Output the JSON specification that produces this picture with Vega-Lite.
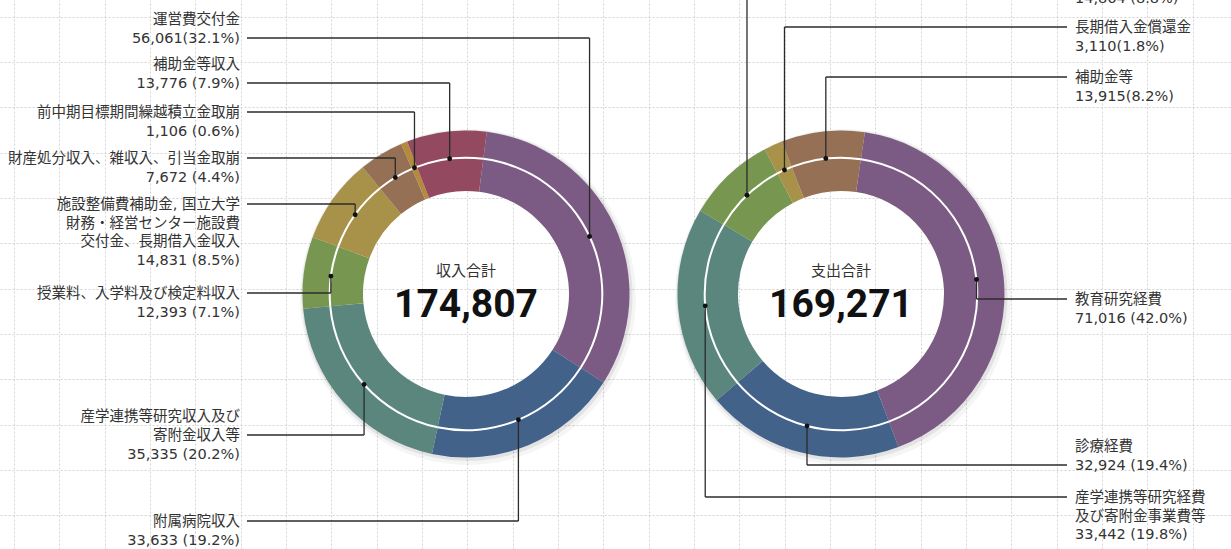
{
  "$schema": "https://vega.github.io/schema/vega-lite/v6.json",
  "width": 1231,
  "height": 549,
  "autosize": {"type": "none"},
  "padding": 0,
  "background": "#ffffff",
  "config": {"view": {"stroke": null}},
  "datasets": {
    "income": [
      {"name": "運営費交付金", "value": 56061, "lines": ["運営費交付金", "56,061(32.1%)"], "ly": 38, "li": 1},
      {"name": "附属病院収入", "value": 33633, "lines": ["附属病院収入", "33,633 (19.2%)"], "ly": 521, "li": 0},
      {"name": "産学連携等研究収入及び寄附金収入等", "value": 35335, "lines": ["産学連携等研究収入及び", "寄附金収入等", "35,335 (20.2%)"], "ly": 435, "li": 1},
      {"name": "授業料、入学料及び検定料収入", "value": 12393, "lines": ["授業料、入学料及び検定料収入", "12,393 (7.1%)"], "ly": 293, "li": 0},
      {"name": "施設整備費補助金, 国立大学財務・経営センター施設費交付金、長期借入金収入", "value": 14831, "lines": ["施設整備費補助金, 国立大学", "財務・経営センター施設費", "交付金、長期借入金収入", "14,831 (8.5%)"], "ly": 204, "li": 0},
      {"name": "財産処分収入、雑収入、引当金取崩", "value": 7672, "lines": ["財産処分収入、雑収入、引当金取崩", "7,672 (4.4%)"], "ly": 158, "li": 0},
      {"name": "前中期目標期間繰越積立金取崩", "value": 1106, "lines": ["前中期目標期間繰越積立金取崩", "1,106 (0.6%)"], "ly": 112, "li": 0},
      {"name": "補助金等収入", "value": 13776, "lines": ["補助金等収入", "13,776 (7.9%)"], "ly": 83, "li": 1}
    ],
    "expense": [
      {"name": "教育研究経費", "value": 71016, "lines": ["教育研究経費", "71,016 (42.0%)"], "ly": 299, "li": 0},
      {"name": "診療経費", "value": 32924, "lines": ["診療経費", "32,924 (19.4%)"], "ly": 465, "li": 1},
      {"name": "産学連携等研究経費及び寄附金事業費等", "value": 33442, "lines": ["産学連携等研究経費", "及び寄附金事業費等", "33,442 (19.8%)"], "ly": 497, "li": 0},
      {"name": "施設整備費", "value": 14864, "lines": ["施設整備費", "14,864 (8.8%)"], "ly": -21, "li": 0},
      {"name": "長期借入金償還金", "value": 3110, "lines": ["長期借入金償還金", "3,110(1.8%)"], "ly": 27, "li": 0},
      {"name": "補助金等", "value": 13915, "lines": ["補助金等", "13,915(8.2%)"], "ly": 77, "li": 0}
    ]
  },
  "layer": [
    {
      "data": {"name": "income"},
      "transform": [
        {"aggregate": [{"op": "sum", "field": "value", "as": "sumv"}]}
      ],
      "mark": {"type": "text", "text": "収入合計", "align": "center", "baseline": "middle", "fontSize": 15, "color": "#333333", "font": "Noto Sans CJK JP"},
      "encoding": {
        "x": {"datum": 466, "type": "quantitative", "scale": {"domain": [0, 1231], "nice": false, "zero": false},
          "axis": {"values": [14, 37, 59, 82, 105, 127, 150, 173, 195, 218, 241, 263, 286, 309, 331, 354, 377, 399, 422, 445, 467, 490, 513, 535, 558, 581, 603, 626, 649, 671, 694, 717, 739, 762, 785, 807, 830, 853, 875, 898, 921, 943, 966, 989, 1011, 1034, 1057, 1079, 1102, 1125, 1147, 1170, 1193, 1215],
            "grid": true, "gridColor": "#d3d3d3", "gridDash": [2, 2], "gridWidth": 1, "labels": false, "ticks": false, "domain": false, "title": null}},
        "y": {"datum": 271, "type": "quantitative", "scale": {"domain": [0, 549], "nice": false, "zero": false, "reverse": true},
          "axis": {"values": [17, 39, 62, 85, 107, 130, 153, 175, 198, 221, 243, 266, 289, 311, 334, 357, 379, 402, 425, 447, 470, 493, 515, 538],
            "grid": true, "gridColor": "#d3d3d3", "gridDash": [2, 2], "gridWidth": 1, "labels": false, "ticks": false, "domain": false, "title": null}}
      }
    },
    {
      "data": {"name": "income"},
      "transform": [
        {"window": [{"op": "row_number", "as": "seq"}]},
        {"window": [{"op": "sum", "field": "value", "as": "cum"}], "sort": [{"field": "seq"}], "frame": [null, 0]},
        {"joinaggregate": [{"op": "sum", "field": "value", "as": "total"}]},
        {"calculate": "0.1274 + 2*PI*(datum.cum - datum.value/2)/datum.total", "as": "ang"},
        {"calculate": "466 + 136.3*sin(datum.ang)", "as": "dx"},
        {"calculate": "294 - 136.3*cos(datum.ang)", "as": "dy"},
        {"calculate": "datum.ly - datum.li*18.7 - 6", "as": "ty"}
      ],
      "layer": [
        {
          "mark": {"type": "arc", "radius": 168, "radius2": 120, "color": "#000000", "opacity": 0.04},
          "encoding": {
            "theta": {"field": "value", "type": "quantitative", "scale": {"range": [0.1274, 6.4106]}},
            "order": {"field": "seq"},
            "x": {"datum": 468, "type": "quantitative", "scale": {"domain": [0, 1231], "nice": false, "zero": false}},
            "y": {"datum": 297, "type": "quantitative", "scale": {"domain": [0, 549], "nice": false, "zero": false, "reverse": true}}
          }
        },
        {
          "mark": {"type": "arc", "radius": 165.5, "radius2": 120, "color": "#000000", "opacity": 0.07},
          "encoding": {
            "theta": {"field": "value", "type": "quantitative"},
            "order": {"field": "seq"},
            "x": {"datum": 467, "type": "quantitative", "scale": {"domain": [0, 1231], "nice": false, "zero": false}},
            "y": {"datum": 295.5, "type": "quantitative", "scale": {"domain": [0, 549], "nice": false, "zero": false, "reverse": true}}
          }
        },
        {
          "mark": {"type": "arc", "radius": 163.5, "radius2": 103},
          "encoding": {
            "theta": {"field": "value", "type": "quantitative"},
            "order": {"field": "seq"},
            "color": {"field": "name", "type": "nominal", "legend": null,
              "scale": {
                "domain": ["運営費交付金", "附属病院収入", "産学連携等研究収入及び寄附金収入等", "授業料、入学料及び検定料収入", "施設整備費補助金, 国立大学財務・経営センター施設費交付金、長期借入金収入", "財産処分収入、雑収入、引当金取崩", "前中期目標期間繰越積立金取崩", "補助金等収入", "教育研究経費", "診療経費", "産学連携等研究経費及び寄附金事業費等", "施設整備費", "長期借入金償還金", "補助金等"],
                "range": ["#7b5a83", "#42628a", "#5a867e", "#77964f", "#a8924a", "#957055", "#b48a3d", "#934a61", "#7b5a83", "#42628a", "#5a867e", "#77964f", "#a8924a", "#957055"]
              }},
            "x": {"datum": 466, "type": "quantitative", "scale": {"domain": [0, 1231], "nice": false, "zero": false}},
            "y": {"datum": 294, "type": "quantitative", "scale": {"domain": [0, 549], "nice": false, "zero": false, "reverse": true}}
          }
        },
        {
          "mark": {"type": "arc", "radius": 137.3, "radius2": 135.3, "color": "#ffffff"},
          "encoding": {
            "theta": {"field": "value", "type": "quantitative"},
            "order": {"field": "seq"},
            "x": {"datum": 466, "type": "quantitative", "scale": {"domain": [0, 1231], "nice": false, "zero": false}},
            "y": {"datum": 294, "type": "quantitative", "scale": {"domain": [0, 549], "nice": false, "zero": false, "reverse": true}}
          }
        },
        {
          "mark": {"type": "rule", "color": "#2b2b2b", "strokeWidth": 1.3},
          "encoding": {
            "x": {"field": "dx", "type": "quantitative", "scale": {"domain": [0, 1231], "nice": false, "zero": false}},
            "y": {"field": "dy", "type": "quantitative", "scale": {"domain": [0, 549], "nice": false, "zero": false, "reverse": true}},
            "y2": {"field": "ly"}
          }
        },
        {
          "mark": {"type": "rule", "color": "#2b2b2b", "strokeWidth": 1.3},
          "encoding": {
            "x": {"field": "dx", "type": "quantitative", "scale": {"domain": [0, 1231], "nice": false, "zero": false}},
            "x2": {"datum": 247},
            "y": {"field": "ly", "type": "quantitative", "scale": {"domain": [0, 549], "nice": false, "zero": false, "reverse": true}}
          }
        },
        {
          "mark": {"type": "circle", "color": "#111111", "opacity": 1, "size": 24},
          "encoding": {
            "x": {"field": "dx", "type": "quantitative", "scale": {"domain": [0, 1231], "nice": false, "zero": false}},
            "y": {"field": "dy", "type": "quantitative", "scale": {"domain": [0, 549], "nice": false, "zero": false, "reverse": true}}
          }
        },
        {
          "mark": {"type": "text", "align": "right", "baseline": "top", "fontSize": 14.5, "lineHeight": 18.7, "color": "#333333", "font": "DejaVu Sans, Noto Sans CJK JP"},
          "encoding": {
            "text": {"field": "lines", "type": "nominal"},
            "x": {"datum": 240, "type": "quantitative", "scale": {"domain": [0, 1231], "nice": false, "zero": false}},
            "y": {"field": "ty", "type": "quantitative", "scale": {"domain": [0, 549], "nice": false, "zero": false, "reverse": true}}
          }
        },
        {
          "transform": [{"aggregate": [{"op": "sum", "field": "value", "as": "sumv"}]}],
          "mark": {"type": "text", "align": "center", "baseline": "middle", "fontSize": 39, "fontWeight": "bold", "color": "#111111", "font": "Roboto"},
          "encoding": {
            "text": {"field": "sumv", "type": "quantitative", "format": ","},
            "x": {"datum": 466, "type": "quantitative", "scale": {"domain": [0, 1231], "nice": false, "zero": false}},
            "y": {"datum": 305, "type": "quantitative", "scale": {"domain": [0, 549], "nice": false, "zero": false, "reverse": true}}
          }
        }
      ]
    },
    {
      "data": {"name": "expense"},
      "transform": [
        {"window": [{"op": "row_number", "as": "seq"}]},
        {"window": [{"op": "sum", "field": "value", "as": "cum"}], "sort": [{"field": "seq"}], "frame": [null, 0]},
        {"joinaggregate": [{"op": "sum", "field": "value", "as": "total"}]},
        {"calculate": "0.1466 + 2*PI*(datum.cum - datum.value/2)/datum.total", "as": "ang"},
        {"calculate": "841 + 136.3*sin(datum.ang)", "as": "dx"},
        {"calculate": "294 - 136.3*cos(datum.ang)", "as": "dy"},
        {"calculate": "datum.ly - datum.li*18.7 - 6", "as": "ty"}
      ],
      "layer": [
        {
          "mark": {"type": "arc", "radius": 168, "radius2": 120, "color": "#000000", "opacity": 0.04},
          "encoding": {
            "theta": {"field": "value", "type": "quantitative", "scale": {"range": [0.1466, 6.4298]}},
            "order": {"field": "seq"},
            "x": {"datum": 843, "type": "quantitative", "scale": {"domain": [0, 1231], "nice": false, "zero": false}},
            "y": {"datum": 297, "type": "quantitative", "scale": {"domain": [0, 549], "nice": false, "zero": false, "reverse": true}}
          }
        },
        {
          "mark": {"type": "arc", "radius": 165.5, "radius2": 120, "color": "#000000", "opacity": 0.07},
          "encoding": {
            "theta": {"field": "value", "type": "quantitative"},
            "order": {"field": "seq"},
            "x": {"datum": 842, "type": "quantitative", "scale": {"domain": [0, 1231], "nice": false, "zero": false}},
            "y": {"datum": 295.5, "type": "quantitative", "scale": {"domain": [0, 549], "nice": false, "zero": false, "reverse": true}}
          }
        },
        {
          "mark": {"type": "arc", "radius": 163.5, "radius2": 103},
          "encoding": {
            "theta": {"field": "value", "type": "quantitative"},
            "order": {"field": "seq"},
            "color": {"field": "name", "type": "nominal", "legend": null,
              "scale": {
                "domain": ["運営費交付金", "附属病院収入", "産学連携等研究収入及び寄附金収入等", "授業料、入学料及び検定料収入", "施設整備費補助金, 国立大学財務・経営センター施設費交付金、長期借入金収入", "財産処分収入、雑収入、引当金取崩", "前中期目標期間繰越積立金取崩", "補助金等収入", "教育研究経費", "診療経費", "産学連携等研究経費及び寄附金事業費等", "施設整備費", "長期借入金償還金", "補助金等"],
                "range": ["#7b5a83", "#42628a", "#5a867e", "#77964f", "#a8924a", "#957055", "#b48a3d", "#934a61", "#7b5a83", "#42628a", "#5a867e", "#77964f", "#a8924a", "#957055"]
              }},
            "x": {"datum": 841, "type": "quantitative", "scale": {"domain": [0, 1231], "nice": false, "zero": false}},
            "y": {"datum": 294, "type": "quantitative", "scale": {"domain": [0, 549], "nice": false, "zero": false, "reverse": true}}
          }
        },
        {
          "mark": {"type": "arc", "radius": 137.3, "radius2": 135.3, "color": "#ffffff"},
          "encoding": {
            "theta": {"field": "value", "type": "quantitative"},
            "order": {"field": "seq"},
            "x": {"datum": 841, "type": "quantitative", "scale": {"domain": [0, 1231], "nice": false, "zero": false}},
            "y": {"datum": 294, "type": "quantitative", "scale": {"domain": [0, 549], "nice": false, "zero": false, "reverse": true}}
          }
        },
        {
          "mark": {"type": "rule", "color": "#2b2b2b", "strokeWidth": 1.3},
          "encoding": {
            "x": {"field": "dx", "type": "quantitative", "scale": {"domain": [0, 1231], "nice": false, "zero": false}},
            "y": {"field": "dy", "type": "quantitative", "scale": {"domain": [0, 549], "nice": false, "zero": false, "reverse": true}},
            "y2": {"field": "ly"}
          }
        },
        {
          "mark": {"type": "rule", "color": "#2b2b2b", "strokeWidth": 1.3},
          "encoding": {
            "x": {"field": "dx", "type": "quantitative", "scale": {"domain": [0, 1231], "nice": false, "zero": false}},
            "x2": {"datum": 1067},
            "y": {"field": "ly", "type": "quantitative", "scale": {"domain": [0, 549], "nice": false, "zero": false, "reverse": true}}
          }
        },
        {
          "mark": {"type": "circle", "color": "#111111", "opacity": 1, "size": 24},
          "encoding": {
            "x": {"field": "dx", "type": "quantitative", "scale": {"domain": [0, 1231], "nice": false, "zero": false}},
            "y": {"field": "dy", "type": "quantitative", "scale": {"domain": [0, 549], "nice": false, "zero": false, "reverse": true}}
          }
        },
        {
          "mark": {"type": "text", "align": "left", "baseline": "top", "fontSize": 14.5, "lineHeight": 18.7, "color": "#333333", "font": "DejaVu Sans, Noto Sans CJK JP"},
          "encoding": {
            "text": {"field": "lines", "type": "nominal"},
            "x": {"datum": 1075, "type": "quantitative", "scale": {"domain": [0, 1231], "nice": false, "zero": false}},
            "y": {"field": "ty", "type": "quantitative", "scale": {"domain": [0, 549], "nice": false, "zero": false, "reverse": true}}
          }
        },
        {
          "transform": [{"aggregate": [{"op": "sum", "field": "value", "as": "sumv"}]}],
          "layer": [
            {
              "mark": {"type": "text", "text": "支出合計", "align": "center", "baseline": "middle", "fontSize": 15, "color": "#333333", "font": "Noto Sans CJK JP"},
              "encoding": {
                "x": {"datum": 841, "type": "quantitative", "scale": {"domain": [0, 1231], "nice": false, "zero": false}},
                "y": {"datum": 271, "type": "quantitative", "scale": {"domain": [0, 549], "nice": false, "zero": false, "reverse": true}}
              }
            },
            {
              "mark": {"type": "text", "align": "center", "baseline": "middle", "fontSize": 39, "fontWeight": "bold", "color": "#111111", "font": "Roboto"},
              "encoding": {
                "text": {"field": "sumv", "type": "quantitative", "format": ","},
                "x": {"datum": 841, "type": "quantitative", "scale": {"domain": [0, 1231], "nice": false, "zero": false}},
                "y": {"datum": 305, "type": "quantitative", "scale": {"domain": [0, 549], "nice": false, "zero": false, "reverse": true}}
              }
            }
          ]
        }
      ]
    }
  ],
  "resolve": {"scale": {"theta": "independent"}}
}
